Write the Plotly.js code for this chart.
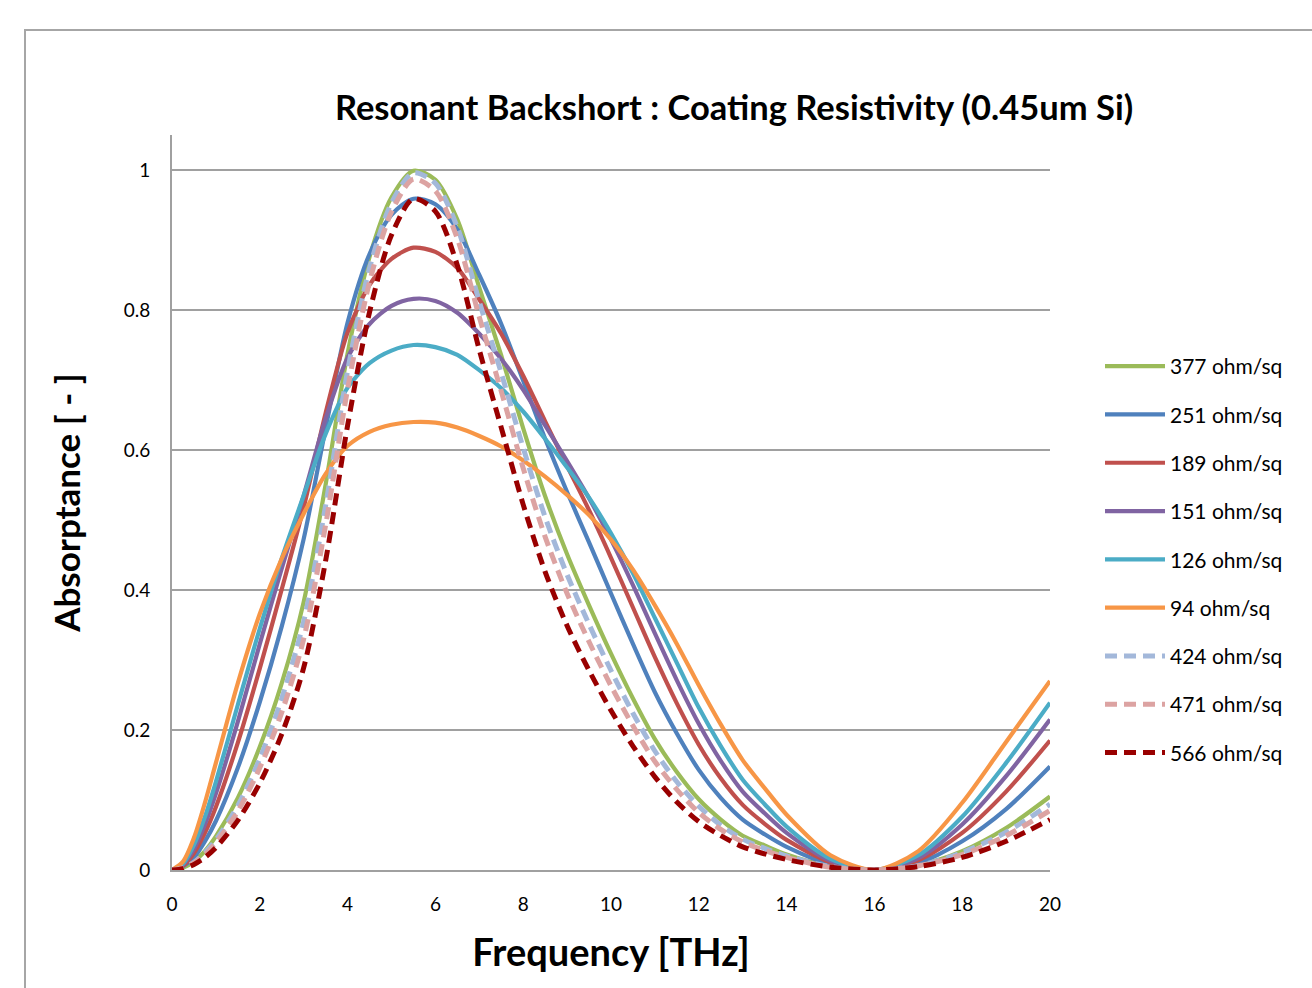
<!DOCTYPE html>
<html>
<head>
<meta charset="utf-8">
<script src="https://cdn.plot.ly/plotly-3.0.1.min.js"></script>
<style>
html,body{margin:0;padding:0;background:#fff;overflow:hidden;}
#frame{position:absolute;left:24px;top:29px;width:1400px;height:1100px;border:2px solid #a6a6a6;box-sizing:border-box;}
#chart{position:absolute;left:0;top:0;width:1312px;height:988px;}
</style>
</head>
<body>
<div id="frame"></div>
<div id="chart"></div>
<script>
// Frequency [THz]
const freq = [0,0.25,0.5,0.75,1,1.5,2,2.5,3,3.5,4,4.5,5,5.5,6,6.5,7,7.5,8,8.5,9,9.5,10,10.5,11,11.5,12,12.5,13,13.5,14,15,16,17,18,19,20];

const seriesNames = ["377 ohm/sq","251 ohm/sq","189 ohm/sq","151 ohm/sq","126 ohm/sq","94 ohm/sq","424 ohm/sq","471 ohm/sq","566 ohm/sq"];

const a377 = [0,0.003,0.012,0.027,0.048,0.103,0.176,0.267,0.383,0.551,0.738,0.876,0.961,0.999,0.986,0.929,0.832,0.735,0.631,0.534,0.451,0.378,0.309,0.245,0.187,0.140,0.101,0.072,0.049,0.035,0.022,0.005,0,0.007,0.027,0.060,0.105];
const a251 = [0,0.005,0.018,0.041,0.070,0.146,0.240,0.348,0.473,0.631,0.782,0.880,0.936,0.959,0.951,0.915,0.850,0.780,0.699,0.616,0.540,0.468,0.395,0.323,0.254,0.195,0.143,0.103,0.072,0.051,0.033,0.008,0,0.010,0.041,0.087,0.148];
const a189 = [0,0.006,0.024,0.053,0.090,0.182,0.288,0.401,0.518,0.653,0.768,0.836,0.873,0.889,0.883,0.860,0.815,0.766,0.706,0.641,0.577,0.514,0.446,0.375,0.304,0.238,0.179,0.131,0.093,0.066,0.043,0.011,0,0.014,0.053,0.112,0.185];
const a151 = [0,0.008,0.030,0.065,0.109,0.212,0.323,0.431,0.535,0.645,0.732,0.780,0.806,0.816,0.813,0.796,0.766,0.730,0.686,0.635,0.584,0.531,0.472,0.407,0.338,0.271,0.209,0.156,0.112,0.081,0.053,0.013,0,0.017,0.065,0.134,0.215];
const a126 = [0,0.009,0.036,0.076,0.126,0.236,0.345,0.445,0.535,0.623,0.689,0.724,0.742,0.750,0.747,0.736,0.714,0.688,0.655,0.616,0.575,0.532,0.481,0.424,0.360,0.296,0.232,0.177,0.129,0.094,0.062,0.016,0,0.021,0.076,0.153,0.239];
const a94  = [0,0.012,0.046,0.096,0.153,0.267,0.366,0.445,0.509,0.566,0.606,0.626,0.636,0.640,0.639,0.632,0.620,0.605,0.585,0.562,0.536,0.507,0.472,0.429,0.378,0.323,0.264,0.208,0.157,0.117,0.079,0.021,0,0.027,0.096,0.183,0.270];
const a424 = [0,0.003,0.011,0.025,0.043,0.092,0.159,0.245,0.355,0.521,0.713,0.860,0.953,0.996,0.981,0.918,0.812,0.710,0.603,0.504,0.422,0.351,0.285,0.224,0.170,0.126,0.091,0.064,0.044,0.031,0.020,0.005,0,0.006,0.025,0.054,0.094];
const a471 = [0,0.003,0.010,0.022,0.039,0.084,0.146,0.225,0.330,0.493,0.687,0.840,0.940,0.987,0.970,0.902,0.790,0.684,0.574,0.476,0.395,0.326,0.263,0.206,0.155,0.115,0.082,0.058,0.040,0.028,0.018,0.004,0,0.006,0.022,0.049,0.085];
const a566 = [0,0.002,0.008,0.018,0.032,0.071,0.124,0.194,0.289,0.442,0.635,0.797,0.907,0.959,0.941,0.864,0.743,0.632,0.522,0.426,0.349,0.285,0.228,0.177,0.133,0.097,0.069,0.049,0.033,0.023,0.015,0.004,0,0.005,0.018,0.041,0.072];

const yTicks = [0,0.2,0.4,0.6,0.8,1];
const yTickText = ["0","0.2","0.4","0.6","0.8","1"];
const xTicks = [0,2,4,6,8,10,12,14,16,18,20];

const values = [a377,a251,a189,a151,a126,a94,a424,a471,a566];
const colors = ["#9BBB59","#4F81BD","#C0504D","#8064A2","#4BACC6","#F79646","#A3B8DA","#DCA3A2","#990000"];
const dashes = ["solid","solid","solid","solid","solid","solid","12px,7px","12px,7px","12px,7px"];
const widths = [4.2,4.2,4.2,4.2,4.2,4.2,5,5,5];

const traces = values.map((v,i)=>({
  x: freq, y: v, type:'scatter', mode:'lines', name: seriesNames[i],
  legendgroup: 'g'+i,
  line:{color:colors[i], width:widths[i], dash:dashes[i], shape:'spline', smoothing:0.8},
  hoverinfo:'skip'
}));

const font = 'Lato, "Open Sans", sans-serif';
const layout = {
  width:1312, height:988,
  paper_bgcolor:'rgba(0,0,0,0)', plot_bgcolor:'rgba(0,0,0,0)',
  margin:{l:172, r:262, t:135, b:118, pad:0},
  font:{family:font, color:'#000', size:18},
  title:{text:'<b>Resonant Backshort : Coating Resistivity (0.45um Si)</b>', font:{family:font, size:34.5, color:'#000'},
         x:734/1312, xanchor:'center', xref:'container', y:1-108/988, yanchor:'middle', yref:'container'},
  xaxis:{range:[0,20], tickvals:xTicks, ticktext:xTicks.map(String), showgrid:false, zeroline:false,
         showline:true, linecolor:'#a0a0a0', linewidth:2, ticks:'', ticklabelstandoff:16,
         tickfont:{size:19, family:font},
         title:{text:'<b>Frequency [THz]</b>', font:{size:38, family:font}, standoff:26}},
  yaxis:{range:[0,1.05], tickvals:yTicks, ticktext:yTickText, showgrid:true, gridcolor:'#a0a0a0', gridwidth:2,
         zeroline:false, showline:true, linecolor:'#a0a0a0', linewidth:2, ticks:'', ticklabelstandoff:16,
         tickfont:{size:19, family:font},
         title:{text:'<b>Absorptance [ - ]</b>', font:{size:35, family:font}, standoff:32}},
  showlegend:true,
  legend:{x:1100/1312, xref:'container', xanchor:'left', y:1-346/988, yref:'container', yanchor:'top',
          font:{size:21, family:font}, itemwidth:60, tracegroupgap:18, bgcolor:'rgba(0,0,0,0)', traceorder:'grouped'}
};
Plotly.newPlot('chart', traces, layout, {displayModeBar:false, staticPlot:true});
</script>
</body>
</html>
